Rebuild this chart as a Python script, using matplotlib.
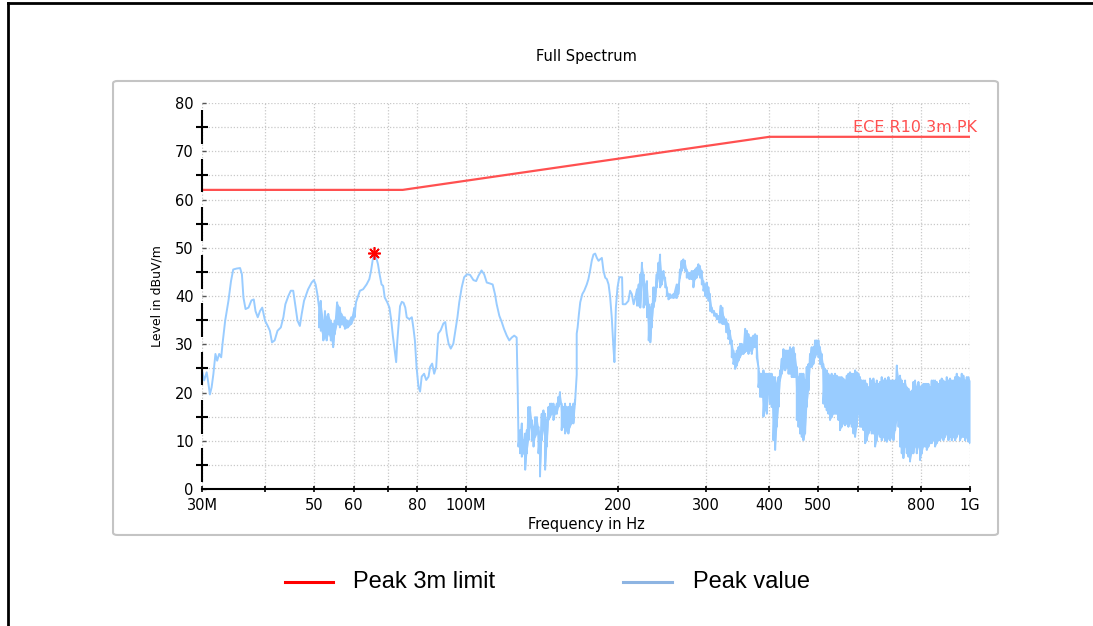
import numpy as np
import matplotlib
matplotlib.use("Agg")
import matplotlib.pyplot as plt
from matplotlib.lines import Line2D
from matplotlib.patches import FancyBboxPatch

plt.rcParams['font.family'] = ['DejaVu Sans']

# ---- peak trace, frequency in MHz, level in dBuV/m ----
# smooth stretch 30 - 51 MHz
a_freq = [30.0, 30.3, 30.65, 30.9, 31.1, 31.35, 31.6, 31.9, 32.15, 32.45,
          32.75, 32.95, 33.35, 33.85, 34.25, 34.6, 35.15, 35.7, 36.0, 36.25,
          36.6, 37.1, 37.6, 38.0, 38.3, 38.7, 39.1, 39.5, 40.0, 40.5,
          40.9, 41.3, 41.8, 42.35, 43.0, 43.5, 43.9, 44.5, 45.0, 45.5,
          45.8, 46.4, 46.9, 47.3, 47.8, 48.7, 49.5, 50.0, 50.4, 50.8]
a_level = [24.6, 22.5, 24.2, 21.8, 19.6, 21.1, 23.8, 28.0, 26.6, 28.0,
           27.3, 30.1, 34.9, 39.0, 43.1, 45.5, 45.7, 45.8, 44.5, 39.7,
           37.3, 37.6, 39.1, 39.3, 36.9, 35.6, 36.9, 37.6, 34.9, 33.8,
           32.8, 30.4, 30.8, 32.8, 33.5, 35.6, 38.3, 40.0, 41.1, 41.1,
           39.0, 34.9, 33.8, 36.3, 39.0, 41.4, 42.8, 43.3, 42.4, 40.4]

# noisy stretch 51 - 60 MHz (upper / lower envelope)
b_freq = [51.2, 51.6, 52.2, 52.6, 53.0, 53.4, 54.0, 54.6, 55.0, 55.6,
          56.3, 56.7, 57.6, 58.4, 59.3, 60.2]
b_hi = [37.6, 39.0, 34.9, 36.9, 35.6, 36.3, 34.9, 34.2, 34.9, 38.7,
        37.6, 36.3, 35.6, 34.9, 35.6, 37.6]
b_lo = [33.5, 32.8, 30.8, 31.4, 30.8, 32.1, 30.8, 29.4, 32.1, 34.2,
        33.5, 34.2, 33.2, 33.5, 34.2, 35.6]

# smooth stretch 60 - 127 MHz
c_freq = [60.6, 61.7, 62.6, 63.6, 64.4, 64.9, 65.5, 65.9, 66.5, 67.0,
          67.5, 68.1, 68.6, 69.1, 69.9, 70.6, 71.2, 71.7, 72.3, 72.8,
          73.2, 73.7, 74.1, 74.7, 75.3, 75.9, 76.4, 77.3, 78.2, 78.8,
          79.3, 79.9, 80.6, 81.2, 81.8, 82.7, 83.5, 84.4, 85.0, 85.8,
          86.6, 87.4, 88.2, 89.2, 90.3, 91.1, 91.7, 92.5, 93.4, 94.5,
          95.4, 96.3, 97.1, 98.2, 99.3, 100.6, 102.0, 103.6, 104.9, 106.0,
          107.5, 108.8, 110.1, 111.7, 113.1, 114.3, 115.2, 116.6, 117.9, 119.1,
          120.6, 122.0, 123.4, 124.8, 126.2, 126.8]
c_level = [38.7, 41.1, 41.4, 42.4, 43.5, 45.2, 47.9, 48.6, 47.9, 46.6,
           44.5, 42.4, 42.1, 39.7, 38.7, 37.6, 34.9, 31.8, 28.7, 26.3,
           30.8, 34.9, 37.9, 38.8, 38.6, 37.6, 35.6, 35.2, 35.6, 33.2,
           30.8, 25.3, 21.2, 20.2, 23.3, 23.9, 22.6, 23.3, 25.3, 26.0,
           23.9, 25.3, 32.2, 32.9, 34.3, 34.6, 32.2, 30.1, 29.1, 30.1,
           32.9, 35.6, 38.7, 41.8, 43.9, 44.5, 44.4, 43.3, 43.1, 44.2,
           45.3, 44.5, 42.8, 42.6, 42.4, 40.4, 38.3, 35.9, 34.6, 33.2,
           31.8, 30.8, 31.4, 31.8, 31.4, 20.4]

# noisy stretch 127 - 165 MHz
d_freq = [127.2, 128.2, 129.2, 130.1, 131.2, 132.2, 133.2, 134.2, 135.2, 136.3,
          137.3, 138.4, 139.4, 140.4, 141.5, 142.6, 143.7, 144.8, 145.9, 147.0,
          148.1, 149.3, 150.4, 151.6, 152.7, 153.8, 155.0, 156.2, 157.4, 158.6,
          159.8, 161.0, 162.2, 163.5, 164.7]
d_hi = [11.5, 12.2, 13.6, 10.1, 11.5, 12.2, 17.0, 17.0, 14.3, 12.9,
        14.9, 14.9, 12.9, 11.5, 15.6, 16.3, 15.6, 14.3, 17.0, 17.7,
        17.7, 17.7, 17.0, 17.7, 19.1, 20.1, 17.7, 17.0, 17.7, 17.0,
        17.0, 17.7, 17.0, 17.7, 18.4]
d_lo = [8.8, 7.4, 6.7, 7.4, 4.0, 7.4, 10.1, 12.9, 10.1, 8.8,
        10.8, 11.5, 7.4, 2.6, 10.1, 12.2, 4.0, 8.8, 14.3, 14.9,
        15.6, 14.3, 15.6, 15.6, 17.0, 17.7, 12.2, 12.9, 11.5, 12.2,
        11.5, 12.9, 13.6, 13.6, 17.7]

# smooth stretch 166 - 217 MHz
e_freq = [166.0, 166.0, 166.7, 167.7, 168.7, 170.3, 171.8, 173.8, 175.1, 176.4,
          177.8, 179.2, 180.6, 182.0, 183.4, 184.7, 186.2, 187.6, 189.1, 190.5,
          192.0, 193.3, 194.8, 196.3, 197.2, 198.5, 200.0, 201.6, 204.2, 204.8,
          207.4, 210.2, 211.8, 213.5, 215.3, 217.0]
e_level = [23.7, 32.2, 33.5, 36.3, 38.7, 40.4, 41.1, 42.4, 43.5, 45.2,
           47.3, 48.6, 48.8, 47.9, 47.3, 47.6, 47.9, 45.2, 43.8, 43.5,
           42.4, 40.0, 35.6, 29.3, 26.3, 37.6, 41.8, 43.9, 43.9, 38.3,
           38.3, 39.0, 41.1, 40.4, 38.3, 39.7]

# noisy stretch 218 MHz - 1 GHz
f_freq = [218.6, 220.3, 221.9, 223.6, 225.3, 227.1, 228.8, 230.6, 232.3, 233.8,
          235.6, 237.4, 239.2, 241.1, 242.9, 244.8, 246.7, 248.6, 250.5, 252.4,
          254.2, 258.1, 262.1, 264.0, 266.0, 268.0, 270.1, 272.2, 274.3, 277.6,
          280.6, 282.8, 284.9, 287.1, 289.3, 291.5, 293.8, 296.0, 298.3, 300.6,
          302.9, 305.1, 307.6, 310.8, 314.6, 318.4, 320.4, 322.8, 325.3, 328.3,
          331.8, 334.3, 336.9, 339.5, 342.1, 344.8, 347.4, 349.9, 352.7, 355.4,
          358.2, 360.9, 363.6, 366.3, 369.1, 371.9, 374.8, 377.7, 380.6, 383.4,
          386.4, 389.4, 392.4, 395.4, 398.4, 401.2, 404.3, 407.5, 410.7, 413.9,
          417.1, 420.0, 423.4, 426.6, 430.0, 433.3, 436.6, 439.7, 443.1, 446.5,
          449.9, 453.4, 456.9, 460.2, 463.8, 467.3, 470.9, 474.5, 478.2, 481.6,
          485.3, 489.1, 492.9, 496.5, 500.6, 504.2, 508.1, 511.9, 515.8, 519.8,
          523.7, 527.7, 531.7, 535.8, 539.9, 544.1, 548.2, 552.3, 556.6, 560.9,
          565.2, 569.6, 573.9, 578.2, 582.7, 587.2, 591.7, 596.3, 600.8, 605.2,
          609.9, 614.6, 619.4, 624.2, 628.9, 633.5, 638.4, 643.3, 648.3, 653.3,
          658.3, 663.0, 668.2, 673.3, 678.5, 683.7, 689.0, 694.1, 699.6, 705.0,
          710.4, 715.9, 721.4, 726.5, 732.1, 737.7, 743.4, 749.1, 754.9, 760.4,
          766.3, 772.1, 778.1, 784.1, 790.1, 796.0, 802.2, 808.3, 814.6, 820.9,
          827.1, 833.0, 839.5, 845.9, 852.5, 859.0, 865.6, 872.0, 878.8, 885.5,
          892.3, 899.2, 906.0, 912.8, 919.9, 926.9, 934.0, 941.2, 948.4, 955.4,
          962.8, 970.1, 977.6, 985.1, 992.4, 1000.0]
f_hi = [41.4, 42.4, 44.5, 46.9, 44.5, 42.4, 43.1, 38.3, 37.6, 38.3,
        41.8, 41.8, 44.5, 46.9, 48.6, 44.5, 45.2, 43.8, 41.8, 40.4,
        40.4, 40.4, 42.4, 42.4, 45.5, 47.3, 47.6, 47.3, 45.5, 44.8,
        45.2, 45.2, 45.5, 45.9, 46.6, 46.2, 45.2, 43.1, 42.4, 42.8,
        41.8, 40.4, 37.6, 36.9, 36.3, 35.9, 38.0, 37.6, 35.6, 35.2,
        34.2, 32.8, 30.8, 28.7, 28.0, 28.7, 29.4, 30.1, 30.1, 29.4,
        33.2, 32.8, 32.1, 31.4, 31.4, 31.8, 32.1, 31.8, 25.3, 23.9,
        23.9, 24.6, 23.9, 23.9, 23.9, 23.9, 23.9, 23.2, 23.2, 21.8,
        23.2, 24.6, 27.0, 29.0, 28.7, 28.7, 28.7, 29.4, 29.0, 29.4,
        28.0, 25.3, 23.2, 23.9, 23.9, 23.9, 22.5, 25.3, 25.9, 28.0,
        29.4, 29.4, 30.8, 30.8, 30.8, 29.4, 28.0, 25.9, 24.9, 24.6,
        23.9, 23.5, 23.9, 23.5, 23.9, 23.5, 23.2, 23.2, 23.2, 22.9,
        22.5, 23.5, 23.9, 24.2, 23.9, 23.9, 24.6, 24.2, 23.9, 23.2,
        22.5, 22.5, 22.5, 21.8, 21.1, 22.9, 22.5, 22.9, 21.8, 22.5,
        21.8, 22.2, 23.2, 22.5, 22.9, 22.5, 23.2, 22.5, 22.5, 22.5,
        22.5, 25.6, 23.2, 23.5, 22.5, 21.8, 22.5, 21.1, 20.8, 20.1,
        20.4, 22.2, 22.5, 21.1, 22.2, 21.1, 21.5, 21.8, 21.8, 21.8,
        21.8, 21.1, 22.5, 22.5, 22.5, 22.2, 21.8, 22.5, 22.9, 22.5,
        22.2, 23.2, 22.5, 22.9, 22.5, 22.5, 23.2, 23.9, 23.2, 22.9,
        23.9, 23.5, 22.5, 23.2, 23.2, 22.5]
f_lo = [38.0, 38.0, 37.6, 42.4, 37.6, 38.3, 35.6, 30.8, 30.4, 33.5,
        37.6, 39.0, 41.8, 43.8, 41.8, 42.4, 43.8, 41.8, 40.0, 39.3,
        39.6, 39.6, 39.6, 40.4, 43.8, 45.2, 45.9, 45.2, 43.8, 43.5,
        43.5, 41.8, 43.5, 43.8, 44.5, 43.8, 42.4, 41.1, 40.0, 39.7,
        39.0, 36.9, 36.6, 35.9, 35.2, 34.5, 34.5, 34.2, 34.2, 32.5,
        31.1, 30.1, 27.3, 25.9, 24.9, 25.6, 26.6, 27.3, 28.0, 28.0,
        28.4, 28.7, 28.0, 28.7, 28.0, 29.4, 29.4, 27.3, 21.1, 19.1,
        19.1, 15.0, 16.3, 15.6, 19.8, 17.7, 17.0, 10.1, 8.1, 12.9,
        17.0, 22.5, 23.9, 25.0, 24.6, 25.3, 23.9, 23.9, 23.2, 23.2,
        23.2, 14.3, 12.9, 11.5, 10.8, 10.1, 11.5, 17.0, 20.4, 25.3,
        25.3, 25.9, 27.3, 28.0, 27.3, 25.9, 25.3, 17.7, 17.0, 16.3,
        15.6, 14.3, 14.9, 15.6, 15.6, 15.6, 14.3, 12.2, 12.9, 13.6,
        13.2, 13.6, 12.9, 13.6, 12.9, 11.5, 10.8, 12.9, 15.6, 12.9,
        12.9, 12.2, 9.5, 10.1, 11.5, 12.2, 11.5, 11.5, 8.8, 10.1,
        11.5, 10.8, 10.1, 10.8, 10.1, 9.8, 10.5, 10.1, 10.8, 10.1,
        12.2, 14.3, 12.9, 8.8, 7.4, 6.4, 8.8, 7.4, 6.7, 5.7,
        7.4, 7.4, 8.8, 7.4, 8.8, 6.0, 7.4, 8.8, 8.8, 8.1,
        8.8, 9.5, 9.5, 10.1, 8.8, 9.5, 10.1, 10.1, 10.8, 10.1,
        10.8, 11.5, 10.1, 10.8, 10.1, 10.8, 10.1, 10.8, 11.5, 10.1,
        10.8, 10.8, 10.1, 10.8, 9.8, 9.5]

# limit line breakpoints
limit_freq = [30.0, 75.0, 400.0, 1000.0]
limit_level = [62.0, 62.0, 73.0, 73.0]

# highest peak
peak_freq = 65.9
peak_level = 49.0

x_ticks = [30, 40, 50, 60, 70, 80, 100, 200, 300, 400, 500, 600, 700, 800, 1000]
x_tick_labels = ['30M', '', '50', '60', '', '80', '100M', '200', '300', '400',
                 '500', '', '', '800', '1G']
y_ticks = [0, 10, 20, 30, 40, 50, 60, 70, 80]

TRACE = '#99ccff'


def zigzag(freq, hi, lo):
    # up/down sweep through both envelopes so the band renders solid
    fz = np.repeat(freq, 2)
    lz = np.column_stack([hi, lo]).ravel()
    return fz, lz


bf, bl = zigzag(b_freq, b_hi, b_lo)
df, dl = zigzag(d_freq, d_hi, d_lo)
ff, fl = zigzag(f_freq, f_hi, f_lo)
trace_f = np.concatenate([a_freq, bf, c_freq, df, e_freq, ff])
trace_l = np.concatenate([a_level, bl, c_level, dl, e_level, fl])

fig = plt.figure(figsize=(10.93, 6.26), dpi=100)
ax = fig.add_axes([0.1848, 0.2188, 0.7027, 0.6166])

# outer frame and grey panel
fig.add_artist(Line2D([0.0073, 1.0], [0.9952, 0.9952], color='black', lw=2))
fig.add_artist(Line2D([0.0073, 0.0073], [0.0, 0.9952], color='black', lw=2))
fig.add_artist(FancyBboxPatch((0.1034, 0.1454), 0.8097, 0.7252,
                              boxstyle='round,pad=0,rounding_size=0.004',
                              transform=fig.transFigure, fill=False,
                              edgecolor='#c4c4c4', lw=1.5))

ax.plot(trace_f, trace_l, color=TRACE, lw=1.4, zorder=3)
for fr, hi, lo in [(b_freq, b_hi, b_lo), (d_freq, d_hi, d_lo), (f_freq, f_hi, f_lo)]:
    ax.fill_between(fr, lo, hi, color=TRACE, lw=0, zorder=3)
ax.plot(limit_freq, limit_level, color='#ff5050', lw=1.6, zorder=4)
ax.plot(peak_freq, peak_level, marker=(8, 2, 0), ms=9, mew=1.2,
        color='red', zorder=5)
ax.annotate('ECE R10 3m PK', xy=(limit_freq[-1], limit_level[-1]),
            xytext=(5, 1), textcoords='offset points', ha='right', va='bottom',
            color='#ff5050', fontsize=11.5)

ax.set_xscale('log')
ax.set_xlim(30, 1000)
ax.set_ylim(0, 80)
ax.set_xticks(x_ticks)
ax.set_xticklabels(x_tick_labels)
ax.xaxis.set_minor_locator(matplotlib.ticker.NullLocator())
ax.set_yticks(y_ticks)
ax.set_yticks(np.arange(5, 80, 10), minor=True)

ax.tick_params(axis='x', which='major', direction='inout', length=5, width=1.2,
               labelsize=10.5, pad=4)
ax.tick_params(axis='y', which='major', direction='in', length=3, width=1,
               color='#555555', labelsize=10.5, pad=6)
ax.tick_params(axis='y', which='minor', direction='inout', length=8, width=1.5)

ax.grid(True, which='major', axis='x', color='#c8c8c8', lw=0.9, ls=(0, (1, 1.5)))
ax.grid(True, which='both', axis='y', color='#c8c8c8', lw=0.9, ls=(0, (1, 1.5)))
ax.set_axisbelow(True)

for side in ['left', 'right', 'top']:
    ax.spines[side].set_visible(False)
ax.spines['bottom'].set_linewidth(1.5)

# broken y axis line, gaps at the labelled ticks
ax.vlines(np.zeros(8), np.arange(0, 80, 10) + 1.5, np.arange(0, 80, 10) + 8.5,
          transform=ax.get_yaxis_transform(), colors='black', lw=1.5,
          clip_on=False, zorder=6)

ax.set_title('Full Spectrum', fontsize=10.5, pad=30)
ax.set_xlabel('Frequency in Hz', fontsize=10.5, labelpad=3)
ax.set_ylabel('Level in dBuV/m', fontsize=9, labelpad=8)

# legend below the panel
fig.add_artist(Line2D([0.2608, 0.3047], [0.0703, 0.0703], color='#ff0000', lw=2.2))
fig.text(0.323, 0.0703, 'Peak 3m limit', va='center', fontsize=17,
         family='Liberation Sans')
fig.add_artist(Line2D([0.570, 0.6148], [0.0703, 0.0703], color='#8db4e2', lw=2.2))
fig.text(0.634, 0.0703, 'Peak value', va='center', fontsize=17,
         family='Liberation Sans')

fig.savefig('out.png', dpi=100)
